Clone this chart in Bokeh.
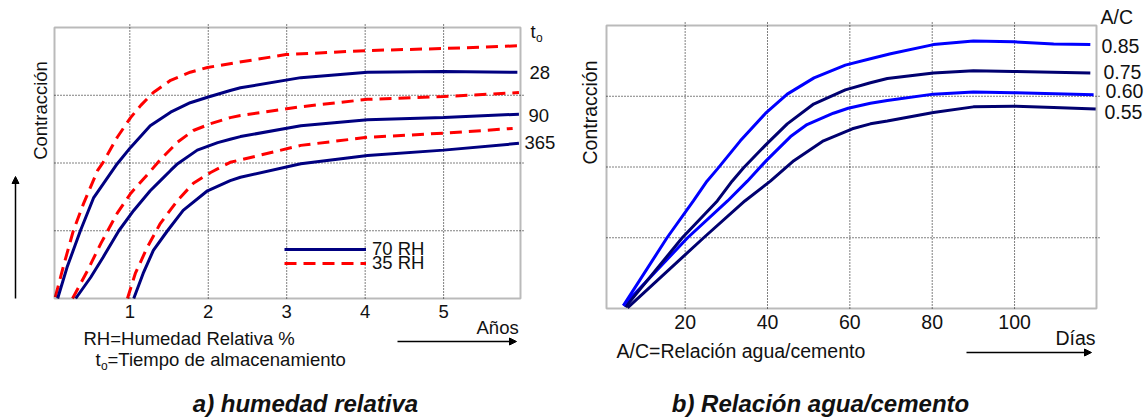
import math
from bokeh.plotting import figure
from bokeh.models import (Label, Arrow, NormalHead, Legend, LegendItem, Range1d, BoxAnnotation)
from bokeh.core.properties import value
from bokeh.layouts import row
from bokeh.embed import file_html
from bokeh.resources import INLINE

# ---------------- Panel a) humedad relativa ----------------
a_x_range = [0.04, 5.98]
a_y_range = [0, 4]
a_ticks = [1, 2, 3, 4, 5]
a_grid_y = [1, 2, 3]

rh35_t28_x = [0.05, 0.15, 0.28, 0.41, 0.59, 0.66, 0.84, 1.01, 1.14, 1.30, 1.52, 1.77, 1.99, 2.35, 2.99, 4.03, 5.00, 5.94]
rh35_t28_y = [0.02, 0.46, 1.00, 1.40, 1.89, 2.01, 2.38, 2.67, 2.85, 3.04, 3.22, 3.34, 3.41, 3.48, 3.60, 3.66, 3.69, 3.73]

rh70_t28_x = [0.08, 0.20, 0.37, 0.54, 0.69, 0.84, 1.01, 1.26, 1.52, 1.77, 1.99, 2.28, 2.41, 3.18, 4.03, 5.00, 5.94]
rh70_t28_y = [0.00, 0.46, 1.00, 1.49, 1.74, 1.99, 2.23, 2.55, 2.75, 2.89, 2.97, 3.07, 3.11, 3.26, 3.34, 3.35, 3.34]

rh35_t90_x = [0.27, 0.46, 0.63, 0.84, 1.01, 1.24, 1.39, 1.61, 1.81, 2.03, 2.28, 2.41, 3.18, 4.03, 5.00, 5.96]
rh35_t90_y = [0.00, 0.41, 0.81, 1.26, 1.55, 1.85, 2.05, 2.31, 2.48, 2.58, 2.67, 2.70, 2.83, 2.94, 2.98, 3.04]

rh70_t90_x = [0.31, 0.50, 0.66, 0.86, 1.05, 1.26, 1.39, 1.52, 1.61, 1.86, 2.12, 2.28, 2.41, 3.18, 4.03, 5.00, 5.96]
rh70_t90_y = [0.00, 0.31, 0.61, 1.00, 1.30, 1.59, 1.74, 1.89, 1.99, 2.19, 2.30, 2.35, 2.39, 2.55, 2.64, 2.67, 2.72]

rh35_t365_x = [0.97, 1.07, 1.22, 1.39, 1.61, 1.81, 2.03, 2.28, 3.18, 4.03, 5.00, 5.88]
rh35_t365_y = [0.00, 0.37, 0.75, 1.11, 1.45, 1.70, 1.86, 2.01, 2.26, 2.38, 2.44, 2.51]

rh70_t365_x = [1.05, 1.17, 1.30, 1.48, 1.68, 1.99, 2.28, 2.41, 3.18, 4.03, 5.00, 5.96]
rh70_t365_y = [0.00, 0.37, 0.71, 1.00, 1.30, 1.59, 1.74, 1.79, 1.99, 2.11, 2.19, 2.29]

a_curve_labels = ["28", "90", "365"]
a_legend_labels = ["70 RH", "35 RH"]

# ---------------- Panel b) relación agua/cemento ----------------
b_x_range = [0.9, 119.9]
b_y_range = [0, 4]
b_ticks = [20, 40, 60, 80, 100]
b_grid_y = [1, 2, 3]

ac085_x = [5.0, 15.6, 22.0, 25.3, 27.8, 33.4, 39.7, 44.8, 51.3, 58.9, 65.0, 69.9, 80.3, 90.0, 99.7, 109.5, 118.4]
ac085_y = [0.04, 1.00, 1.52, 1.80, 1.97, 2.37, 2.77, 3.03, 3.26, 3.44, 3.53, 3.60, 3.73, 3.78, 3.77, 3.74, 3.73]

ac075_x = [5.5, 19.3, 27.8, 31.4, 34.2, 39.7, 44.8, 51.2, 58.9, 65.0, 69.1, 80.3, 90.0, 99.7, 118.4]
ac075_y = [0.02, 1.00, 1.52, 1.80, 1.99, 2.32, 2.61, 2.89, 3.09, 3.19, 3.25, 3.33, 3.36, 3.35, 3.33]

ac060_x = [5.0, 20.6, 30.3, 35.1, 39.7, 45.6, 49.6, 56.0, 59.6, 65.0, 69.1, 80.3, 90.0, 99.7, 119.2]
ac060_y = [0.04, 1.00, 1.52, 1.80, 2.09, 2.43, 2.60, 2.76, 2.83, 2.90, 2.94, 3.03, 3.06, 3.05, 3.02]

ac055_x = [6.0, 24.5, 34.5, 40.7, 46.4, 53.6, 60.6, 65.0, 69.1, 80.3, 90.0, 99.7, 109.5, 119.7]
ac055_y = [0.01, 1.00, 1.52, 1.80, 2.09, 2.37, 2.54, 2.61, 2.65, 2.77, 2.85, 2.86, 2.84, 2.82]

b_curve_labels = ["0.85", "0.75", "0.60", "0.55"]

FONT = "Liberation Sans"
NAVY = "#000080"
RED = "#ff0000"
BLUE = "#0000ff"
DARK = "#000070"
TXT = "#111111"
W, H = 573, 418
SHIFT = 0.33  # compensation (in em) between wanted baseline and drawn position


def make_panel(xr, yr, box_px, ticks, grid_y, fs, tick_base_px):
    """box_px = (left, top, right, bottom) of the plot box in this canvas' pixels."""
    L, T, R, B = box_px
    kx = (R - L) / (xr[1] - xr[0])
    ky = (B - T) / (yr[1] - yr[0])
    p = figure(width=W, height=H,
               x_range=Range1d(xr[0] - L / kx, xr[0] + (W - L) / kx),
               y_range=Range1d(yr[0] - (H - B) / ky, yr[0] + B / ky),
               output_backend="svg", toolbar_location=None,
               min_border=0, min_border_left=0, min_border_right=0,
               min_border_top=0, min_border_bottom=0)
    p.axis.visible = False
    p.grid.visible = False
    p.outline_line_color = None
    p.background_fill_color = "white"
    p.border_fill_color = "white"
    fx = lambda px: xr[0] + (px - L) / kx
    fy = lambda py: yr[0] + (B - py) / ky
    # dotted grid, limited to the plot box (slightly overshooting like the original)
    p.segment(x0=ticks, y0=[yr[0]] * len(ticks), x1=ticks, y1=[yr[1] + 4 / ky] * len(ticks),
              line_color="black", line_dash="1 2", line_width=1)
    p.segment(x0=[xr[0]] * len(grid_y), y0=grid_y, x1=[xr[1] + 3 / kx] * len(grid_y), y1=grid_y,
              line_color="black", line_dash="1 2", line_width=1)
    # tick labels
    p.text(x=ticks, y=[fy(tick_base_px - SHIFT * fs)] * len(ticks), text=[str(t) for t in ticks],
           text_font=value(FONT), text_font_size=f"{fs}px", text_color=TXT,
           text_align="center", text_baseline="alphabetic")
    return p, fx, fy


def frame_box(p, xr, yr):
    p.add_layout(BoxAnnotation(left=xr[0], right=xr[1], bottom=yr[0], top=yr[1],
                               fill_alpha=0, line_color="#1a1a1a", line_width=2))


def lab(p, fx, fy, px, py, text, fs, style="normal", align="left"):
    p.add_layout(Label(x=fx(px), y=fy(py - SHIFT * fs), text=text, text_font=FONT,
                       text_font_size=f"{fs}px", text_font_style=style, text_color=TXT,
                       text_align=align, text_baseline="alphabetic"))


def vlab(p, fx, fy, px, py, text, fs):
    p.add_layout(Label(x=fx(px), y=fy(py), text=text, text_font=FONT, text_font_size=f"{fs}px",
                       text_color=TXT, angle=math.pi / 2, text_align="center",
                       text_baseline="middle"))


def arrow(p, fx, fy, x0, y0, x1, y1):
    p.add_layout(Arrow(x_start=fx(x0), y_start=fy(y0), x_end=fx(x1), y_end=fy(y1),
                       line_width=1.5, line_color="black",
                       end=NormalHead(size=7, fill_color="black", line_color="black")))


# ---- figure a ----
FS_A = 18.5
pa, ax, ay = make_panel(a_x_range, a_y_range, (54, 27, 520, 298), a_ticks, a_grid_y, FS_A, 317.5)

dash = "12 7"
r35 = pa.line(rh35_t28_x, rh35_t28_y, line_color=RED, line_width=3, line_dash=dash)
r70 = pa.line(rh70_t28_x, rh70_t28_y, line_color=NAVY, line_width=3)
pa.line(rh35_t90_x, rh35_t90_y, line_color=RED, line_width=3, line_dash=dash)
pa.line(rh70_t90_x, rh70_t90_y, line_color=NAVY, line_width=3)
pa.line(rh35_t365_x, rh35_t365_y, line_color=RED, line_width=3, line_dash=dash)
pa.line(rh70_t365_x, rh70_t365_y, line_color=NAVY, line_width=3)
frame_box(pa, a_x_range, a_y_range)

for lbl, rend, vy in [(a_legend_labels[0], r70, 158), (a_legend_labels[1], r35, 144)]:
    leg = Legend(items=[LegendItem(label=lbl, renderers=[rend])], location=(284, vy),
                 glyph_width=82, glyph_height=20, label_height=20, label_standoff=6,
                 padding=0, margin=0, spacing=0, border_line_color=None,
                 background_fill_alpha=0, label_text_font=FONT, label_text_font_size=f"{FS_A}px",
                 label_text_color=TXT)
    pa.add_layout(leg)

lab(pa, ax, ay, 530, 37, "t", FS_A)
lab(pa, ax, ay, 535.5, 41, "o", 12)
for t, (px, py) in zip(a_curve_labels, [(529, 78), (528, 121), (524, 148)]):
    lab(pa, ax, ay, px, py, t, FS_A)
lab(pa, ax, ay, 476, 333, "Años", FS_A)
lab(pa, ax, ay, 83, 344, "RH=Humedad Relativa %", FS_A)
lab(pa, ax, ay, 95, 365, "t", FS_A)
lab(pa, ax, ay, 100.5, 369, "o", 12)
lab(pa, ax, ay, 107, 365, "=Tiempo de almacenamiento", FS_A)
vlab(pa, ax, ay, 40, 110, "Contracción", FS_A)
lab(pa, ax, ay, 305, 411, "a) humedad relativa", 24, style="bold italic", align="center")
arrow(pa, ax, ay, 15, 298, 15, 176)
arrow(pa, ax, ay, 397, 341, 516, 341)

# ---- figure b ----  (canvas starts at window x = 573)
FS_B = 19.5
OFF = 573
pb, bx0, by = make_panel(b_x_range, b_y_range, (606 - OFF, 25, 1096 - OFF, 308), b_ticks, b_grid_y, FS_B, 328)
bx = lambda px: bx0(px - OFF)

pb.line(ac055_x, ac055_y, line_color=DARK, line_width=3)
pb.line(ac060_x, ac060_y, line_color=BLUE, line_width=3)
pb.line(ac075_x, ac075_y, line_color=DARK, line_width=3)
pb.line(ac085_x, ac085_y, line_color=BLUE, line_width=3)
frame_box(pb, b_x_range, b_y_range)

lab(pb, bx, by, 1100, 23, "A/C", FS_B)
for t, (px, py) in zip(b_curve_labels, [(1101, 52), (1103, 78), (1105, 97), (1104, 118)]):
    lab(pb, bx, by, px, py, t, FS_B)
lab(pb, bx, by, 1055, 344, "Días", FS_B)
lab(pb, bx, by, 616, 357, "A/C=Relación agua/cemento", FS_B)
vlab(pb, bx, by, 589, 112, "Contracción", FS_B)
lab(pb, bx, by, 820, 411, "b) Relación agua/cemento", 24, style="bold italic", align="center")
arrow(pb, bx, by, 564, 307, 564, 178)
arrow(pb, bx, by, 966, 352, 1091, 352)

layout = row(pa, pb)
open("out.html", "w").write(file_html(layout, INLINE))
